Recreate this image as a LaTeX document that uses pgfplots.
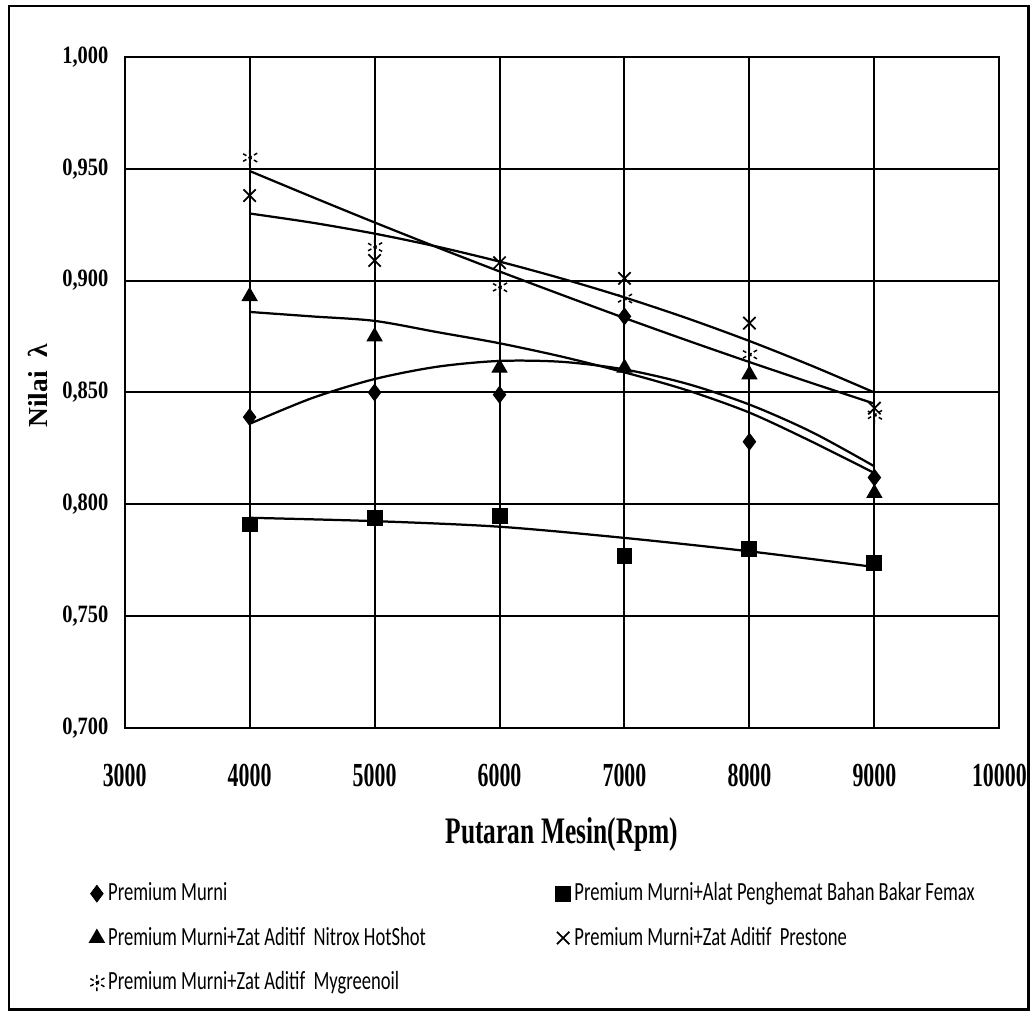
\documentclass[border=0pt]{standalone}
\usepackage{fontspec}
\setmainfont{Liberation Serif}
\newfontfamily\ytf{Liberation Serif}[FakeStretch=0.82]
\newfontfamily\xtf{Liberation Serif}[FakeStretch=0.65]
\newfontfamily\ttlf{Liberation Serif}[FakeStretch=0.68]
\newfontfamily\legf{Carlito}[FakeStretch=0.71]
\usepackage{pgfplots}
\pgfplotsset{compat=1.18}

\begin{document}
\begin{tikzpicture}[x=0.4pt,y=-0.4pt]
\path (0,0) rectangle (1035,1016);
\draw[line width=1pt] (9,6) rectangle (1031,1012);
\begin{axis}[
    at={(50pt,-292pt)}, anchor=south west,
    scale only axis, width=350.8pt, height=269.2pt,
    xmin=3000, xmax=10000, ymin=0.7, ymax=1.0,
    scaled x ticks=false, scaled y ticks=false,
    xtick={3000,4000,5000,6000,7000,8000,9000,10000},
    xticklabels={3000,4000,5000,6000,7000,8000,9000,10000},
    ytick={0.7,0.75,0.8,0.85,0.9,0.95,1.0},
    yticklabels={{0,700},{0,750},{0,800},{0,850},{0,900},{0,950},{1,000}},
    major tick length=0pt,
    grid=major,
    major grid style={black, line width=0.8pt},
    axis line style={black, line width=0.8pt},
    xticklabel style={font=\xtf\bfseries\fontsize{13.5}{14}\selectfont, yshift=-11pt},
    yticklabel style={font=\ytf\bfseries\fontsize{10}{12}\selectfont, xshift=-3pt},
    xlabel={Putaran Mesin(Rpm)},
    xlabel style={font=\ttlf\bfseries\fontsize{15}{18}\selectfont, at={(axis description cs:0.5,-0.159)}, anchor=center},
    ylabel={Nilai \ λ},
    ylabel style={font=\bfseries\fontsize{11}{13}\selectfont, at={(axis description cs:-0.099,0.51)}, anchor=center},
    legend columns=2,
    legend cell align=left,
    legend image code/.code={\draw[mark repeat=1,#1] plot coordinates {(0pt,0pt)};},
    legend style={draw=none, fill=none, font=\legf\fontsize{10.5}{12}\selectfont,
        at={(axis description cs:-0.041,-0.224)}, anchor=north west,
        row sep=6pt, inner sep=0pt,
        nodes={inner sep=1.5pt}},
]
% data points
\addplot[only marks, mark=diamond*, mark size=3.3pt, black] coordinates {
(4000,0.839) (5000,0.850) (6000,0.849) (7000,0.884) (8000,0.828) (9000,0.812)};
\addlegendentry{\makebox[178pt][l]{Premium Murni}}
\addplot[only marks, mark=square*, mark size=3pt, black] coordinates {
(4000,0.791) (5000,0.794) (6000,0.795) (7000,0.777) (8000,0.780) (9000,0.774)};
\addlegendentry{Premium Murni+Alat Penghemat Bahan Bakar Femax}
\addplot[only marks, mark=triangle*, mark size=3.4pt, black] coordinates {
(4000,0.893) (5000,0.875) (6000,0.861) (7000,0.861) (8000,0.858) (9000,0.805)};
\addlegendentry{\makebox[178pt][l]{Premium Murni+Zat Aditif \ Nitrox HotShot}}
\addplot[only marks, mark=x, mark size=3.5pt, black, mark options={line width=0.7pt}] coordinates {
(4000,0.938) (5000,0.909) (6000,0.908) (7000,0.901) (8000,0.881) (9000,0.843)};
\addlegendentry{Premium Murni+Zat Aditif \ Prestone}
\addplot[only marks, mark=asterisk, mark size=3.5pt, black, mark options={line width=0.6pt, dash pattern=on 1.5pt off 1pt}] coordinates {
(4000,0.955) (5000,0.915) (6000,0.897) (7000,0.892) (8000,0.867) (9000,0.840)};
\addlegendentry{Premium Murni+Zat Aditif \ Mygreenoil}
% trend lines
\addplot[black, line width=0.9pt, smooth, forget plot] coordinates {
(4000,0.836) (4500,0.8475) (5000,0.856) (5500,0.8615) (6000,0.8641) (6500,0.8637)
(7000,0.8603) (7500,0.8539) (8000,0.8446) (8500,0.8323) (9000,0.817)};
\addplot[black, line width=0.9pt, smooth, forget plot] coordinates {
(4000,0.794) (5000,0.7925) (6000,0.790) (7000,0.785) (8000,0.779) (9000,0.772)};
\addplot[black, line width=0.9pt, smooth, forget plot] coordinates {
(4000,0.886) (4500,0.884) (5000,0.882) (5500,0.877) (6000,0.872) (6500,0.866)
(7000,0.859) (7500,0.851) (8000,0.841) (8500,0.828) (9000,0.814)};
\addplot[black, line width=0.9pt, smooth, forget plot] coordinates {
(4000,0.930) (4500,0.9259) (5000,0.921) (5500,0.9152) (6000,0.9085) (6500,0.9009)
(7000,0.8925) (7500,0.8832) (8000,0.873) (8500,0.8619) (9000,0.850)};
\addplot[black, line width=0.9pt, smooth, forget plot] coordinates {
(4000,0.949) (4500,0.9374) (5000,0.926) (5500,0.9149) (6000,0.9041) (6500,0.8936)
(7000,0.8833) (7500,0.8733) (8000,0.8636) (8500,0.8542) (9000,0.845)};
\end{axis}
\end{tikzpicture}
\end{document}
